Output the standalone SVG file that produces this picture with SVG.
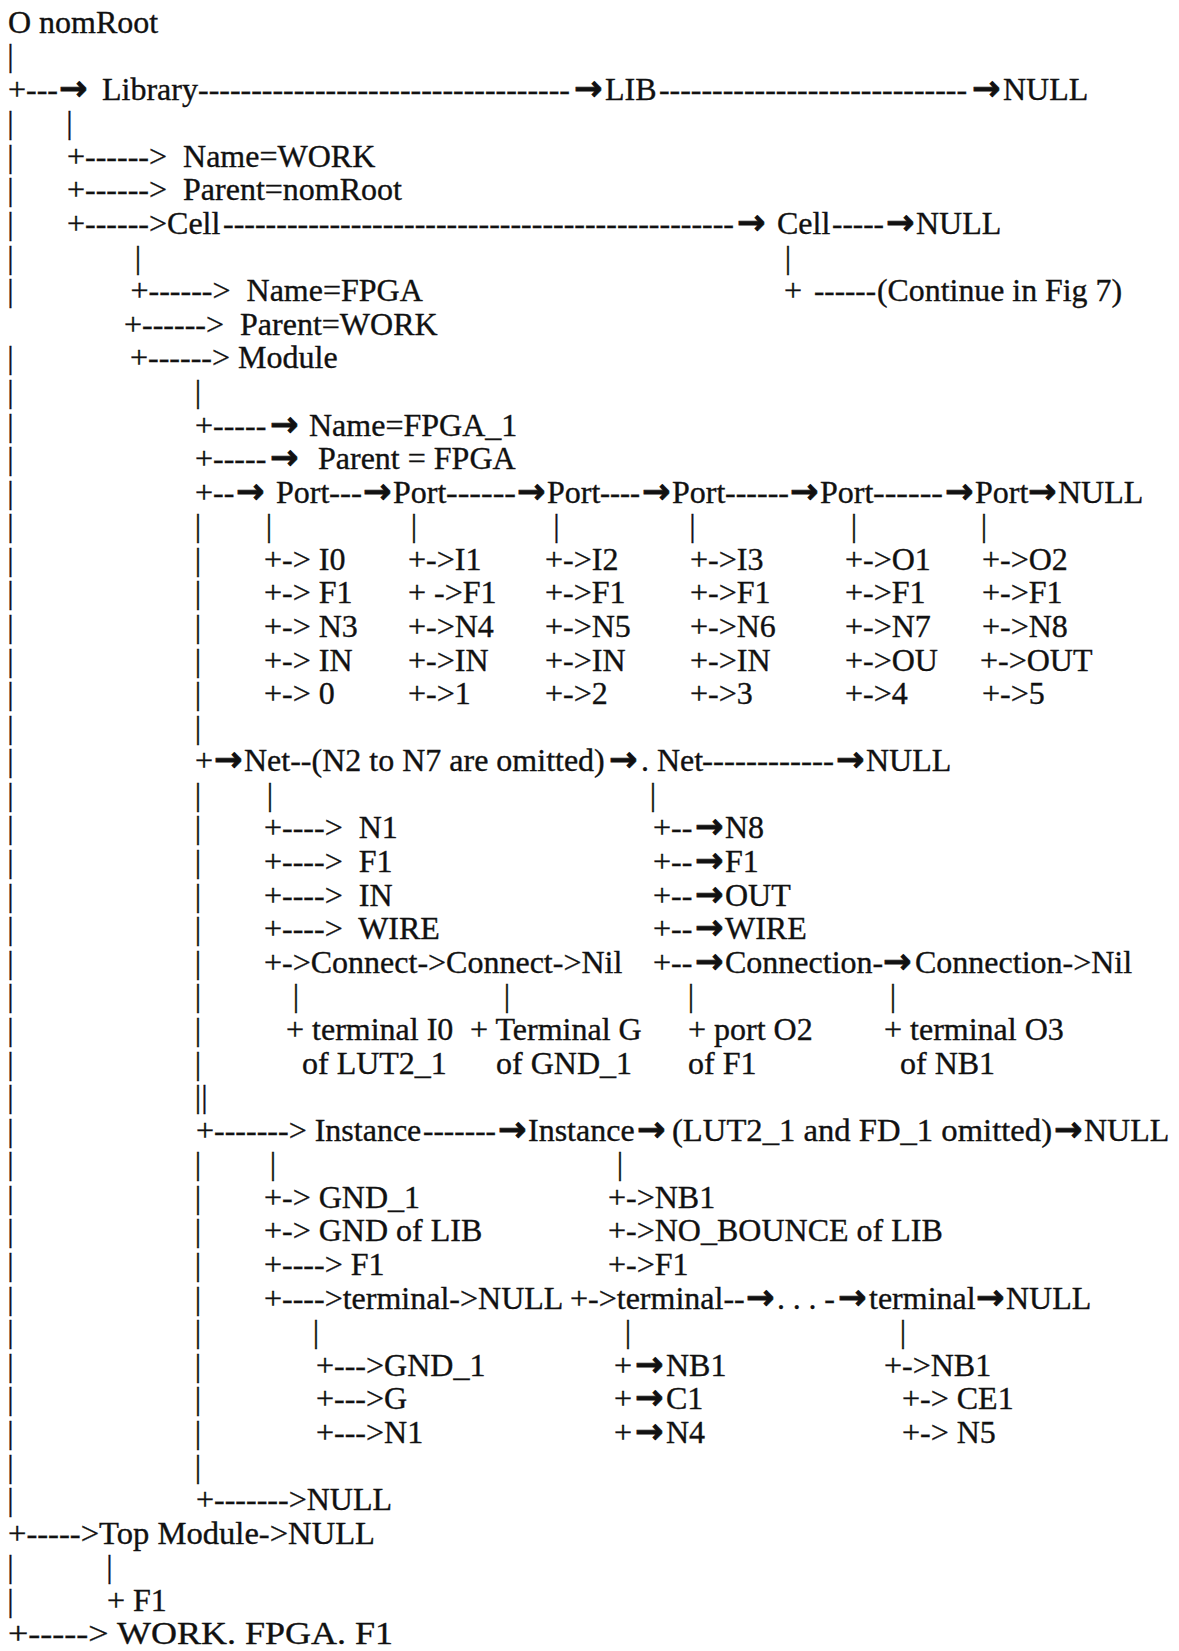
<svg xmlns="http://www.w3.org/2000/svg" width="1179" height="1651" viewBox="0 0 1179 1651">
<style>
.t{font-family:"Liberation Serif","Times New Roman",serif;font-size:32px;fill:#111;stroke:#111;stroke-width:0.35;white-space:pre}
.a{font-family:"DejaVu Sans",sans-serif;font-weight:bold;font-size:34px;fill:#111;stroke:#111;stroke-width:0.8}
</style>
<rect width="1179" height="1651" fill="#fff"/>
<g id="connectors">
<text class="t"><tspan x="7.3" y="66">|</tspan><tspan x="7.3" y="133">|</tspan><tspan x="7.3" y="167">|</tspan><tspan x="7.3" y="200">|</tspan><tspan x="7.3" y="234">|</tspan><tspan x="7.3" y="268">|</tspan><tspan x="7.3" y="301">|</tspan><tspan x="7.3" y="368">|</tspan><tspan x="7.3" y="402">|</tspan><tspan x="7.3" y="436">|</tspan><tspan x="7.3" y="469">|</tspan><tspan x="7.3" y="503">|</tspan><tspan x="7.3" y="536">|</tspan><tspan x="7.3" y="570">|</tspan><tspan x="7.3" y="603">|</tspan><tspan x="7.3" y="637">|</tspan><tspan x="7.3" y="671">|</tspan><tspan x="7.3" y="704">|</tspan><tspan x="7.3" y="738">|</tspan><tspan x="7.3" y="771">|</tspan><tspan x="7.3" y="805">|</tspan><tspan x="7.3" y="838">|</tspan><tspan x="7.3" y="872">|</tspan><tspan x="7.3" y="906">|</tspan><tspan x="7.3" y="939">|</tspan><tspan x="7.3" y="973">|</tspan><tspan x="7.3" y="1006">|</tspan><tspan x="7.3" y="1040">|</tspan><tspan x="7.3" y="1074">|</tspan><tspan x="7.3" y="1107">|</tspan><tspan x="7.3" y="1141">|</tspan><tspan x="7.3" y="1174">|</tspan><tspan x="7.3" y="1208">|</tspan><tspan x="7.3" y="1241">|</tspan><tspan x="7.3" y="1275">|</tspan><tspan x="7.3" y="1309">|</tspan><tspan x="7.3" y="1342">|</tspan><tspan x="7.3" y="1376">|</tspan><tspan x="7.3" y="1409">|</tspan><tspan x="7.3" y="1443">|</tspan><tspan x="7.3" y="1477">|</tspan><tspan x="7.3" y="1510">|</tspan><tspan x="7.3" y="1577">|</tspan><tspan x="7.3" y="1611">|</tspan></text>
<text class="t"><tspan x="194.8" y="402">|</tspan><tspan x="194.8" y="536">|</tspan><tspan x="194.8" y="570">|</tspan><tspan x="194.8" y="603">|</tspan><tspan x="194.8" y="637">|</tspan><tspan x="194.8" y="671">|</tspan><tspan x="194.8" y="704">|</tspan><tspan x="194.8" y="738">|</tspan><tspan x="194.8" y="805">|</tspan><tspan x="194.8" y="838">|</tspan><tspan x="194.8" y="872">|</tspan><tspan x="194.8" y="906">|</tspan><tspan x="194.8" y="939">|</tspan><tspan x="194.8" y="973">|</tspan><tspan x="194.8" y="1006">|</tspan><tspan x="194.8" y="1040">|</tspan><tspan x="194.8" y="1074">|</tspan><tspan x="194.8" y="1107">||</tspan><tspan x="194.8" y="1174">|</tspan><tspan x="194.8" y="1208">|</tspan><tspan x="194.8" y="1241">|</tspan><tspan x="194.8" y="1275">|</tspan><tspan x="194.8" y="1309">|</tspan><tspan x="194.8" y="1342">|</tspan><tspan x="194.8" y="1376">|</tspan><tspan x="194.8" y="1409">|</tspan><tspan x="194.8" y="1443">|</tspan><tspan x="194.8" y="1477">|</tspan></text>
<text class="t"><tspan x="66.3" y="133">|</tspan><tspan x="134.8" y="268">|</tspan><tspan x="784.8" y="268">|</tspan><tspan x="265.8" y="536">|</tspan><tspan x="410.8" y="536">|</tspan><tspan x="553.3" y="536">|</tspan><tspan x="689.3" y="536">|</tspan><tspan x="850.8" y="536">|</tspan><tspan x="980.8" y="536">|</tspan><tspan x="266.8" y="805">|</tspan><tspan x="649.8" y="805">|</tspan><tspan x="292.8" y="1006">|</tspan><tspan x="503.8" y="1006">|</tspan><tspan x="687.8" y="1006">|</tspan><tspan x="889.8" y="1006">|</tspan><tspan x="269.8" y="1174">|</tspan><tspan x="616.8" y="1174">|</tspan><tspan x="312.8" y="1342">|</tspan><tspan x="624.8" y="1342">|</tspan><tspan x="899.8" y="1342">|</tspan><tspan x="106.3" y="1577">|</tspan></text>
<text class="t" y="100" x="198" textLength="372" lengthAdjust="spacingAndGlyphs">-----------------------------------</text>
<text class="t" y="100" x="659" textLength="308" lengthAdjust="spacingAndGlyphs">-----------------------------</text>
<text class="t" y="234" x="223" textLength="511" lengthAdjust="spacingAndGlyphs">------------------------------------------------</text>
<text class="t" y="234" x="832" textLength="52" lengthAdjust="spacingAndGlyphs">-----</text>
<text class="t" y="503" x="329" textLength="33" lengthAdjust="spacingAndGlyphs">---</text>
<text class="t" y="503" x="446" textLength="70" lengthAdjust="spacingAndGlyphs">------</text>
<text class="t" y="503" x="600" textLength="40" lengthAdjust="spacingAndGlyphs">----</text>
<text class="t" y="503" x="725" textLength="64" lengthAdjust="spacingAndGlyphs">------</text>
<text class="t" y="503" x="873" textLength="70" lengthAdjust="spacingAndGlyphs">------</text>
<text class="t" y="771" x="702" textLength="132" lengthAdjust="spacingAndGlyphs">------------</text>
<text class="t" y="1141" x="423" textLength="73" lengthAdjust="spacingAndGlyphs">-------</text>
<text class="a" y="100" x="59">→</text>
<text class="a" y="100" x="574">→</text>
<text class="a" y="100" x="972">→</text>
<text class="a" y="234" x="737">→</text>
<text class="a" y="234" x="886">→</text>
<text class="a" y="436" x="270">→</text>
<text class="a" y="469" x="270">→</text>
<text class="a" y="503" x="236">→</text>
<text class="a" y="503" x="363">→</text>
<text class="a" y="503" x="517">→</text>
<text class="a" y="503" x="642">→</text>
<text class="a" y="503" x="790">→</text>
<text class="a" y="503" x="945">→</text>
<text class="a" y="503" x="1028">→</text>
<text class="a" y="771" x="214">→</text>
<text class="a" y="771" x="609">→</text>
<text class="a" y="771" x="836">→</text>
<text class="a" y="838" x="695">→</text>
<text class="a" y="872" x="695">→</text>
<text class="a" y="906" x="695">→</text>
<text class="a" y="939" x="695">→</text>
<text class="a" y="973" x="695">→</text>
<text class="a" y="973" x="883">→</text>
<text class="a" y="1141" x="498">→</text>
<text class="a" y="1141" x="637">→</text>
<text class="a" y="1141" x="1054">→</text>
<text class="a" y="1309" x="746">→</text>
<text class="a" y="1309" x="838">→</text>
<text class="a" y="1309" x="976">→</text>
<text class="a" y="1376" x="635">→</text>
<text class="a" y="1409" x="635">→</text>
<text class="a" y="1443" x="635">→</text>
</g>
<g id="nomRoot"><text class="t" x="8" y="33">O nomRoot</text></g>
<g id="library"><text class="t" x="8" y="100">+---</text><text class="t" x="102" y="100">Library</text></g>
<g id="lib"><text class="t" x="605" y="100">LIB</text><text class="t" x="1003" y="100">NULL</text></g>
<g id="lib-name"><text class="t" x="67" y="167">+------&gt;  Name=WORK</text></g>
<g id="lib-parent"><text class="t" x="67" y="200">+------&gt;  Parent=nomRoot</text></g>
<g id="cell"><text class="t" x="67" y="234">+------&gt;Cell</text></g>
<g id="cell2"><text class="t" x="777" y="234">Cell</text><text class="t" x="916" y="234">NULL</text></g>
<g id="cell-name"><text class="t" x="130.5" y="301">+------&gt;  Name=FPGA</text></g>
<g id="continue"><text class="t" x="784" y="301">+</text><text class="t" x="814" y="301" textLength="62" lengthAdjust="spacingAndGlyphs">------</text><text class="t" x="877" y="301" textLength="245" lengthAdjust="spacingAndGlyphs">(Continue in Fig 7)</text></g>
<g id="cell-parent"><text class="t" x="124" y="335">+------&gt;  Parent=WORK</text></g>
<g id="module"><text class="t" x="130" y="368">+------&gt; Module</text></g>
<g id="module-name"><text class="t" x="195" y="436">+-----</text><text class="t" x="309" y="436">Name=FPGA_1</text></g>
<g id="module-parent"><text class="t" x="195" y="469">+-----</text><text class="t" x="318" y="469">Parent = FPGA</text></g>
<g id="ports"><text class="t" x="195" y="503">+--</text><text class="t" x="276" y="503">Port</text><text class="t" x="393" y="503">Port</text><text class="t" x="547" y="503">Port</text><text class="t" x="672" y="503">Port</text><text class="t" x="820" y="503">Port</text><text class="t" x="975" y="503">Port</text><text class="t" x="1058" y="503">NULL</text></g>
<g id="port1"><text class="t" x="264" y="570">+-&gt; I0</text><text class="t" x="264" y="603">+-&gt; F1</text><text class="t" x="264" y="637">+-&gt; N3</text><text class="t" x="264" y="671">+-&gt; IN</text><text class="t" x="264" y="704">+-&gt; 0</text></g>
<g id="port2"><text class="t" x="408" y="570">+-&gt;I1</text><text class="t" x="408" y="603">+ -&gt;F1</text><text class="t" x="408" y="637">+-&gt;N4</text><text class="t" x="408" y="671">+-&gt;IN</text><text class="t" x="408" y="704">+-&gt;1</text></g>
<g id="port3"><text class="t" x="545" y="570">+-&gt;I2</text><text class="t" x="545" y="603">+-&gt;F1</text><text class="t" x="545" y="637">+-&gt;N5</text><text class="t" x="545" y="671">+-&gt;IN</text><text class="t" x="545" y="704">+-&gt;2</text></g>
<g id="port4"><text class="t" x="690" y="570">+-&gt;I3</text><text class="t" x="690" y="603">+-&gt;F1</text><text class="t" x="690" y="637">+-&gt;N6</text><text class="t" x="690" y="671">+-&gt;IN</text><text class="t" x="690" y="704">+-&gt;3</text></g>
<g id="port5"><text class="t" x="845" y="570">+-&gt;O1</text><text class="t" x="845" y="603">+-&gt;F1</text><text class="t" x="845" y="637">+-&gt;N7</text><text class="t" x="845" y="671">+-&gt;OU</text><text class="t" x="845" y="704">+-&gt;4</text></g>
<g id="port6"><text class="t" x="982" y="570">+-&gt;O2</text><text class="t" x="982" y="603">+-&gt;F1</text><text class="t" x="982" y="637">+-&gt;N8</text><text class="t" x="980" y="671">+-&gt;OUT</text><text class="t" x="982" y="704">+-&gt;5</text></g>
<g id="nets"><text class="t" x="195" y="771">+</text><text class="t" x="244" y="771">Net--(N2 to N7 are omitted)</text><text class="t" x="641" y="771">. Net</text><text class="t" x="866" y="771">NULL</text></g>
<g id="net1"><text class="t" x="264" y="838">+----&gt;  N1</text><text class="t" x="264" y="872">+----&gt;  F1</text><text class="t" x="264" y="906">+----&gt;  IN</text><text class="t" x="264" y="939">+----&gt;  WIRE</text><text class="t" x="264" y="973">+-&gt;Connect-&gt;Connect-&gt;Nil</text></g>
<g id="net8"><text class="t" x="653" y="838">+--</text><text class="t" x="725" y="838">N8</text><text class="t" x="653" y="872">+--</text><text class="t" x="725" y="872">F1</text><text class="t" x="653" y="906">+--</text><text class="t" x="725" y="906">OUT</text><text class="t" x="653" y="939">+--</text><text class="t" x="725" y="939">WIRE</text><text class="t" x="653" y="973">+--</text><text class="t" x="725" y="973">Connection-</text><text class="t" x="915" y="973">Connection-&gt;Nil</text></g>
<g id="conn1"><text class="t" x="286" y="1040">+ terminal I0</text><text class="t" x="302" y="1074">of LUT2_1</text></g>
<g id="conn2"><text class="t" x="470" y="1040">+ Terminal G</text><text class="t" x="496" y="1074">of GND_1</text></g>
<g id="conn3"><text class="t" x="688" y="1040">+ port O2</text><text class="t" x="688" y="1074">of F1</text></g>
<g id="conn4"><text class="t" x="884" y="1040">+ terminal O3</text><text class="t" x="900" y="1074">of NB1</text></g>
<g id="instances"><text class="t" x="196" y="1141">+-------&gt; Instance</text><text class="t" x="528" y="1141">Instance</text><text class="t" x="672" y="1141" textLength="380" lengthAdjust="spacingAndGlyphs">(LUT2_1 and FD_1 omitted)</text><text class="t" x="1084" y="1141">NULL</text></g>
<g id="inst1"><text class="t" x="264" y="1208">+-&gt; GND_1</text><text class="t" x="264" y="1241">+-&gt; GND of LIB</text><text class="t" x="264" y="1275">+----&gt; F1</text><text class="t" x="264" y="1309">+----&gt;terminal-&gt;NULL</text></g>
<g id="inst2"><text class="t" x="608" y="1208">+-&gt;NB1</text><text class="t" x="608" y="1241">+-&gt;NO_BOUNCE of LIB</text><text class="t" x="608" y="1275">+-&gt;F1</text><text class="t" x="570" y="1309">+-&gt;terminal--</text><text class="t" x="777" y="1309" textLength="58" lengthAdjust="spacing">...-</text><text class="t" x="869" y="1309">terminal</text><text class="t" x="1006" y="1309">NULL</text></g>
<g id="term1"><text class="t" x="316" y="1376">+---&gt;GND_1</text><text class="t" x="316" y="1409">+---&gt;G</text><text class="t" x="316" y="1443">+---&gt;N1</text></g>
<g id="term2"><text class="t" x="614" y="1376">+</text><text class="t" x="666" y="1376">NB1</text><text class="t" x="614" y="1409">+</text><text class="t" x="666" y="1409">C1</text><text class="t" x="614" y="1443">+</text><text class="t" x="666" y="1443">N4</text></g>
<g id="term3"><text class="t" x="884" y="1376">+-&gt;NB1</text><text class="t" x="902" y="1409">+-&gt; CE1</text><text class="t" x="902" y="1443">+-&gt; N5</text></g>
<g id="null-end"><text class="t" x="196" y="1510">+-------&gt;NULL</text></g>
<g id="topmodule"><text class="t" x="8" y="1544" textLength="367" lengthAdjust="spacingAndGlyphs">+-----&gt;Top Module-&gt;NULL</text><text class="t" x="107" y="1611">+ F1</text></g>
<g id="work"><text class="t" x="8" y="1644" textLength="385" lengthAdjust="spacingAndGlyphs">+-----&gt; WORK. FPGA. F1</text></g>
</svg>
